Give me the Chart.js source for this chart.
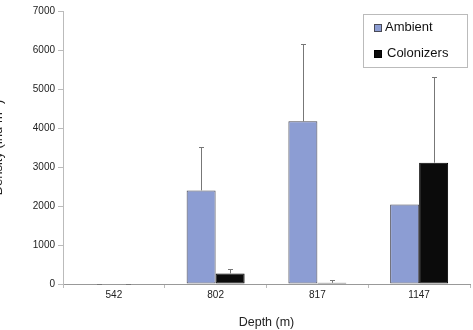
<!DOCTYPE html>
<html>
<head>
<meta charset="utf-8">
<script src="https://cdn.jsdelivr.net/npm/chart.js@4.4.0/dist/chart.umd.min.js"></script>
<style>
  html, body { margin: 0; padding: 0; background: #fff; }
  #wrap { position: relative; width: 473px; height: 330px; overflow: hidden; }
  /* canvas pushed left so the y title is cut off like in the source figure */
  #densityChart { position: absolute; left: -15px; top: 0; }
</style>
</head>
<body>
<div id="wrap">
  <canvas id="densityChart" width="488" height="330"></canvas>
</div>
<script>
// Data
const depths = ['542', '802', '817', '1147'];
const ambient = [0, 2400, 4170, 2040];
const ambientErr = [0, 1110, 1980, null];
const colonizers = [0, 270, 30, 3110];
const colonizersErr = [0, 105, 70, 2190];
const yTicks = [0, 1000, 2000, 3000, 4000, 5000, 6000, 7000];

const FONT = '"Liberation Sans", Arial, sans-serif';

// upward error bars with small caps
const errorBars = {
    id: 'errorBars',
    afterDatasetsDraw(chart) {
        const ctx = chart.ctx;
        const y = chart.scales.y;
        ctx.save();
        ctx.strokeStyle = '#777';
        ctx.lineWidth = 1;
        chart.data.datasets.forEach(function (ds, di) {
            const meta = chart.getDatasetMeta(di);
            meta.data.forEach(function (bar, i) {
                const err = ds.errors[i];
                if (err === null || err === undefined) return;
                const x = Math.round(bar.x) + 0.5;
                const y0 = y.getPixelForValue(ds.data[i]);
                const y1 = Math.round(y.getPixelForValue(ds.data[i] + err)) + 0.5;
                ctx.beginPath();
                ctx.moveTo(x, y0);
                ctx.lineTo(x, y1);
                ctx.moveTo(x - 2.5, y1);
                ctx.lineTo(x + 2.5, y1);
                ctx.stroke();
            });
        });
        ctx.restore();
    }
};

// boxed legend inside the plot, top right
const boxLegend = {
    id: 'boxLegend',
    afterDraw(chart) {
        const ctx = chart.ctx;
        const area = chart.chartArea;
        const bx = area.right - 107;
        const by = area.top + 3;
        ctx.save();
        ctx.strokeStyle = '#bbb';
        ctx.lineWidth = 1;
        ctx.strokeRect(Math.round(bx) + 0.5, Math.round(by) + 0.5, 104, 53);
        ctx.font = '13px ' + FONT;
        ctx.textBaseline = 'middle';
        ctx.fillStyle = '#111';
        chart.data.datasets.forEach(function (ds, i) {
            const cy = by + 13.5 + i * 25.5;
            const sx = Math.round(bx + 11) + 0.5;
            const sy = Math.round(cy - 3.5) + 0.5;
            ctx.fillStyle = ds.backgroundColor;
            ctx.fillRect(sx, sy, 7, 7);
            ctx.strokeStyle = ds.borderColor;
            ctx.strokeRect(sx, sy, 7, 7);
            ctx.fillStyle = '#111';
            ctx.fillText(ds.label, bx + 22 + i * 2, cy);
        });
        ctx.restore();
    }
};

const ctx = document.getElementById('densityChart').getContext('2d');
const densityChart = new Chart(ctx, {
    type: 'bar',
    data: {
        labels: depths,
        datasets: [{
            label: 'Ambient',
            data: ambient,
            errors: ambientErr,
            backgroundColor: '#8c9dd3',
            borderColor: '#4a4a55',
            borderWidth: 1,
            borderSkipped: false
        }, {
            label: 'Colonizers',
            data: colonizers,
            errors: colonizersErr,
            backgroundColor: '#0b0b0b',
            borderColor: '#000',
            borderWidth: 1,
            borderSkipped: false
        }]
    },
    plugins: [errorBars, boxLegend],
    options: {
        responsive: false,
        animation: false,
        devicePixelRatio: 1,
        layout: {
            padding: { top: 11, right: 3, left: 0, bottom: 0 }
        },
        datasets: {
            bar: {
                categoryPercentage: 0.57,
                barPercentage: 1
            }
        },
        plugins: {
            legend: { display: false },
            tooltip: { enabled: false }
        },
        scales: {
            x: {
                grid: {
                    display: true,
                    drawOnChartArea: false,
                    offset: true,
                    tickLength: 4,
                    color: '#bbb'
                },
                border: { color: '#999' },
                ticks: {
                    padding: 1,
                    color: '#222',
                    font: { family: FONT, size: 10 }
                },
                title: {
                    display: true,
                    text: 'Depth (m)',
                    color: '#222',
                    padding: { top: 0, bottom: 0 },
                    font: { family: FONT, size: 12.5 }
                },
                afterFit: function (scale) { scale.height = 46; }
            },
            y: {
                min: 0,
                max: 7000,
                afterBuildTicks: function (scale) {
                    scale.ticks = yTicks.map(function (v) { return { value: v }; });
                },
                grid: {
                    display: true,
                    drawOnChartArea: false,
                    tickLength: 5,
                    color: '#bbb'
                },
                border: { color: '#bbb' },
                ticks: {
                    padding: 3,
                    color: '#222',
                    font: { family: FONT, size: 10 },
                    callback: function (value) { return String(value); }
                },
                title: {
                    display: true,
                    text: 'Density (ind m⁻²)',
                    color: '#222',
                    padding: { top: 6, bottom: 4 },
                    font: { family: FONT, size: 13 }
                },
                afterFit: function (scale) { scale.width = 78; }
            }
        }
    }
});
</script>
</body>
</html>
